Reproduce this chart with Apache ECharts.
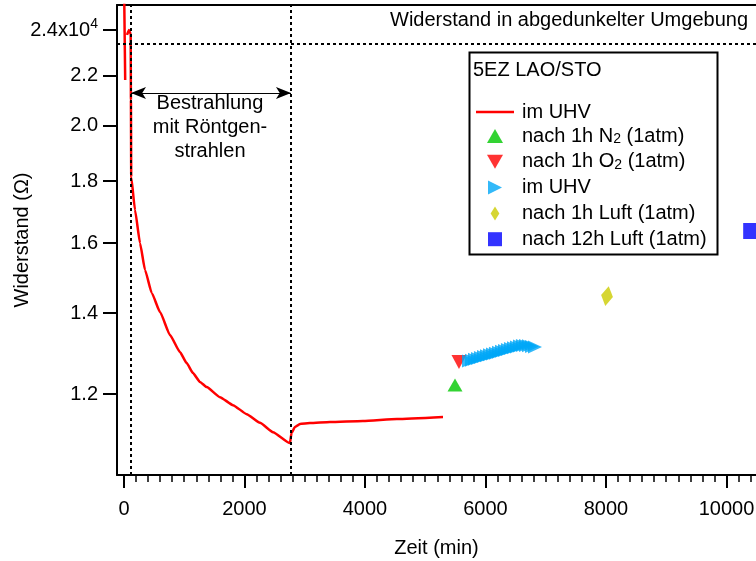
<!DOCTYPE html>
<html><head><meta charset="utf-8">
<script src="https://cdn.jsdelivr.net/npm/echarts@6/dist/echarts.min.js"></script>
<style>html,body{margin:0;padding:0;background:#fff}#c{width:756px;height:561px}</style>
</head><body><div id="c"></div>
<script>
// ---- data (time in min, resistance in Ohm) ----
const redTime = [0, 20, 35, 50, 83, 111, 115, 120, 183, 266, 349, 460, 598, 763, 929, 1041, 1145, 1261, 1373, 1593, 1809, 2037, 2257, 2473, 2755, 2780, 2838, 2921, 3087, 3419, 3967, 4531, 5295];
const redR    = [26500, 21820, null, 23780, 24000, 23820, 21010, 18140, 17040, 16000, 15200, 14550, 14030, 13430, 13000, 12730, 12490, 12280, 12160, 11930, 11750, 11550, 11360, 11160, 10930, 11140, 11270, 11335, 11356, 11378, 11400, 11443, 11487];
const n2Time = [5494];
const n2R    = [12208];
const o2Time = [5560];
const o2R    = [12755];
const uhv2Time = [5726, 5776, 5826, 5876, 5925, 5975, 6025, 6075, 6125, 6174, 6224, 6274, 6324, 6373, 6423, 6473, 6523, 6573, 6622, 6672, 6722, 6772, 6822];
const uhv2R    = [12779, 12801, 12824, 12843, 12865, 12887, 12909, 12932, 12954, 12973, 12996, 13018, 13040, 13063, 13085, 13105, 13127, 13150, 13160, 13163, 13155, 13140, 13125];
const luft1Time = [8017];
const luft1R    = [14463];
const luft12Time = [10410];
const luft12R    = [16370];
const xTickLabels = [0, 2000, 4000, 6000, 8000, 10000];
const yTickLabels = [12000, 14000, 16000, 18000, 20000, 22000, 24000];
const darkLevel = 23370;
const irradStart = 116, irradEnd = 2772;
const arrowLevel = 21290;
const irradTextTime = 1427, irradTextR = 19956;

const L = Math.log;
const font = 'Liberation Sans, Arial, sans-serif';
const minorTicks = [];
for (let t = 0; t <= 10400; t += 200) minorTicks.push(t);
const pairs = (ts, rs) => ts.map((t, i) => [t, rs[i] == null ? '-' : L(rs[i])]);

const names = {
  uhv1: 'im UHV',
  n2: 'nach 1h N{sub|2} (1atm)',
  o2: 'nach 1h O{sub|2} (1atm)',
  uhv2: 'im UHV',
  luft1: 'nach 1h Luft (1atm)',
  luft12: 'nach 12h Luft (1atm)'
};
const legendFmt = n => '{a|' + names[n].replace(/\{sub\|2\}/, '}{sub|2}{b|') + '}';
const legendRich = pad => ({
  a: {fontSize: 20, color: '#000', fontFamily: font, padding: [0, 0, 0, pad]},
  b: {fontSize: 20, color: '#000', fontFamily: font},
  sub: {fontSize: 14, color: '#000', fontFamily: font, verticalAlign: 'bottom'}
});

const chart = echarts.init(document.getElementById('c'), null, {renderer: 'canvas'});
const dotted = {color: '#000', width: 2, type: [3, 3]};
chart.setOption({
  animation: false,
  textStyle: {fontFamily: font},
  grid: {left: 117, top: 5, right: 0, bottom: 86, containLabel: false, outerBoundsMode: 'none'},
  xAxis: [
    {
      type: 'value', position: 'bottom', min: -116, max: 10490,
      name: 'Zeit (min)', nameLocation: 'middle', nameGap: 63, nameMoveOverlap: false,
      nameTextStyle: {fontSize: 20, color: '#000', fontFamily: font},
      axisLine: {onZero: false, lineStyle: {color: '#000', width: 2}},
      axisTick: {customValues: xTickLabels, length: 13, inside: false, lineStyle: {color: '#000', width: 2}},
      axisLabel: {customValues: xTickLabels, margin: 24, fontSize: 20, color: '#000', fontFamily: font,
                  formatter: v => String(Math.round(v))},
      splitLine: {show: false}
    },
    {
      type: 'value', position: 'bottom', min: -116, max: 10490,
      axisLine: {show: false, onZero: false},
      axisTick: {customValues: minorTicks, length: 7, inside: false, lineStyle: {color: '#000', width: 1.5}},
      axisLabel: {show: false},
      splitLine: {show: false}
    },
    {
      type: 'value', position: 'top', min: -116, max: 10490,
      axisLine: {onZero: false, lineStyle: {color: '#000', width: 2}},
      axisTick: {show: false}, axisLabel: {show: false}, splitLine: {show: false}
    }
  ],
  yAxis: {
    type: 'value', position: 'left', min: L(10286), max: L(25175),
    name: 'Widerstand (\u03A9)', nameLocation: 'middle', nameGap: 85, nameMoveOverlap: false,
    nameTextStyle: {fontSize: 20, color: '#000', fontFamily: font},
    axisLine: {onZero: false, lineStyle: {color: '#000', width: 2}},
    axisTick: {customValues: yTickLabels.map(L), length: 14, inside: false, lineStyle: {color: '#000', width: 2}},
    axisLabel: {
      customValues: yTickLabels.map(L), margin: 19, fontSize: 20, color: '#000', fontFamily: font,
      formatter: v => {
        const r = Math.round(Math.exp(v) / 1000) / 10;
        if (r >= 2.35) return '{a|' + r.toFixed(1) + 'x10}{sup|4}';
        return r.toFixed(1);
      },
      rich: {
        a: {fontSize: 20, color: '#000', fontFamily: font},
        sup: {fontSize: 14, color: '#000', fontFamily: font, verticalAlign: 'top', padding: [0, 0, 12, 0]}
      }
    },
    splitLine: {show: false}
  },
  legend: [
    {
      orient: 'vertical', left: 476, top: 102, padding: 0,
      itemWidth: 38, itemHeight: 2.5, itemGap: 4,
      data: [{name: 'uhv1', icon: 'rect'}],
      formatter: legendFmt,
      textStyle: {color: '#000', fontSize: 20, fontFamily: font, rich: legendRich(3)},
      selectedMode: false
    },
    {
      orient: 'vertical', left: 487, top: 126, padding: 0,
      itemWidth: 16, itemHeight: 14, itemGap: 5.8, symbolKeepAspect: true,
      data: [
        {name: 'n2', icon: 'path://M8,0L16,14L0,14Z'},
        {name: 'o2', icon: 'path://M0,0L16,0L8,14Z'},
        {name: 'uhv2', icon: 'path://M0,0L14,7L0,14Z'},
        {name: 'luft1', icon: 'path://M5,0L10,8L5,16L0,8Z'},
        {name: 'luft12', icon: 'path://M0,0L15,0L15,15L0,15Z'}
      ],
      formatter: legendFmt,
      textStyle: {color: '#000', fontSize: 20, fontFamily: font, rich: legendRich(14)},
      selectedMode: false
    }
  ],
  graphic: [
    {type: 'rect', left: 467, top: 50, shape: {width: 248, height: 202}, style: {fill: 'none', stroke: '#000', lineWidth: 2}, z: 10},
    {type: 'text', left: 473, top: 60, style: {text: '5EZ LAO/STO', font: '20px ' + font, fill: '#000'}, z: 10},
    {type: 'text', right: 8, top: 10, style: {text: 'Widerstand in abgedunkelter Umgebung', font: '20px ' + font, fill: '#000'}, z: 10}
  ],
  series: [
    {
      name: 'uhv1', type: 'line', data: pairs(redTime, redR), showSymbol: false, symbol: 'none',
      smooth: 0.15, smoothMonotone: 'x',
      lineStyle: {color: '#ff0000', width: 2.5}, itemStyle: {color: '#ff0000'}, clip: true, connectNulls: false,
      markLine: {
        silent: true, symbol: 'none', label: {show: false},
        data: [
          [{coord: [-116, L(darkLevel)], lineStyle: dotted}, {coord: [10490, L(darkLevel)]}],
          [{coord: [irradStart, L(10286)], lineStyle: dotted}, {coord: [irradStart, L(25175)]}],
          [{coord: [irradEnd, L(10286)], lineStyle: dotted}, {coord: [irradEnd, L(25175)]}],
          [{coord: [irradStart, L(arrowLevel)], symbol: 'arrow', symbolSize: [9, 15], lineStyle: {color: '#000', width: 1, type: 'solid'}},
           {coord: [irradEnd, L(arrowLevel)], symbol: 'arrow', symbolSize: [9, 15]}]
        ],
        itemStyle: {color: '#000'}
      },
      markPoint: {
        silent: true,
        data: [{
          coord: [irradTextTime, L(irradTextR)], symbol: 'circle', symbolSize: 1,
          itemStyle: {color: 'rgba(0,0,0,0)'},
          label: {show: true, position: 'inside', formatter: 'Bestrahlung\nmit Röntgen-\nstrahlen',
                  fontSize: 20, lineHeight: 24, color: '#000', fontFamily: font, align: 'center'}
        }]
      }
    },
    {name: 'n2', type: 'scatter', data: pairs(n2Time, n2R), symbol: 'triangle', symbolSize: [15, 13], itemStyle: {color: '#00c800'}},
    {name: 'o2', type: 'scatter', data: pairs(o2Time, o2R), symbol: 'triangle', symbolRotate: 180, symbolSize: [15, 14], itemStyle: {color: '#ff0000'}},
    {name: 'uhv2', type: 'scatter', data: pairs(uhv2Time, uhv2R), symbol: 'triangle', symbolRotate: -90, symbolSize: [13, 14], itemStyle: {color: '#00a8f8'}},
    {name: 'luft1', type: 'scatter', data: pairs(luft1Time, luft1R), symbol: 'diamond', symbolRotate: -10, symbolSize: [12, 20], itemStyle: {color: '#cccc00'}},
    {name: 'luft12', type: 'scatter', data: pairs(luft12Time, luft12R), symbol: 'rect', symbolSize: 16, itemStyle: {color: '#0000ff'}}
  ]
});
</script>
</body></html>
